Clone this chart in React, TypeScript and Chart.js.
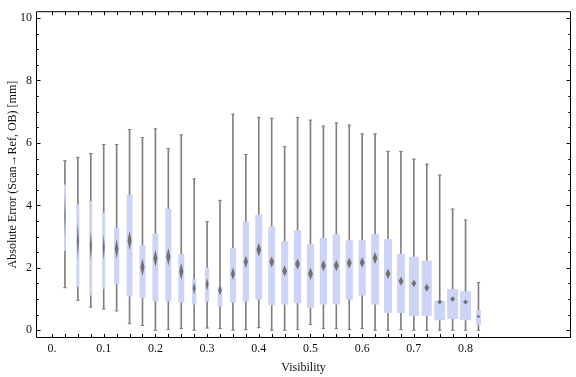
import React, { useEffect, useRef } from 'react';
import { Chart, registerables } from 'chart.js';

Chart.register(...registerables);

// ---- data ----
const positions = [
  0.025, 0.05, 0.075, 0.1, 0.125, 0.15, 0.175, 0.2, 0.225, 0.25, 0.275,
  0.3, 0.325, 0.35, 0.375, 0.4, 0.425, 0.45, 0.475, 0.5, 0.525, 0.55,
  0.575, 0.6, 0.625, 0.65, 0.675, 0.7, 0.725, 0.75, 0.775, 0.8, 0.825,
];
const whiskerHigh = [
  5.43, 5.54, 5.66, 5.95, 5.95, 6.43, 6.17, 6.45, 5.82, 6.26, 4.85,
  3.48, 4.16, 6.92, 5.63, 6.82, 6.79, 5.88, 6.82, 6.73, 6.54, 6.64,
  6.57, 6.29, 6.29, 5.73, 5.73, 5.48, 5.32, 4.97, 3.88, 3.53, 1.53,
];
const upperQuartile = [
  4.67, 4.03, 4.13, 3.76, 3.28, 4.33, 2.72, 3.1, 3.89, 2.45, 1.63,
  2.01, 1.38, 2.63, 3.48, 3.7, 3.32, 2.85, 3.2, 2.76, 2.95, 3.07,
  2.88, 2.88, 3.07, 2.92, 2.45, 2.35, 2.23, 0.94, 1.32, 1.25, 0.63,
];
const medians = [
  3.66, 2.87, 2.7, 2.66, 2.61, 2.87, 2.02, 2.3, 2.35, 1.88, 1.34,
  1.47, 1.28, 1.81, 2.19, 2.58, 2.19, 1.9, 2.12, 1.81, 2.07, 2.07,
  2.15, 2.17, 2.31, 1.81, 1.57, 1.5, 1.36, 0.9, 1.0, 0.9, 0.44,
];
const lowerQuartile = [
  2.54, 1.39, 1.11, 1.33, 1.48, 1.08, 1.04, 0.93, 0.93, 0.89, 0.82,
  0.92, 0.76, 0.89, 0.92, 0.98, 0.81, 0.82, 0.86, 0.71, 0.82, 0.82,
  0.98, 1.11, 0.82, 0.55, 0.55, 0.46, 0.46, 0.32, 0.36, 0.32, 0.17,
];
const whiskerLow = [
  1.36, 0.96, 0.74, 0.68, 0.62, 0.21, 0.15, 0.0, 0.02, 0.05, 0.0,
  0.07, 0.05, 0.0, 0.02, 0.08, 0.0, 0.0, 0.02, 0.18, 0.05, 0.05,
  0.02, 0.05, 0.0, 0.0, 0.02, 0.0, 0.0, 0.0, 0.0, 0.0, 0.0,
];
// half-height of the median notch diamond (mm)
const medianSpread = [
  0.65, 0.6, 0.5, 0.42, 0.32, 0.3, 0.28, 0.27, 0.28, 0.28, 0.2,
  0.2, 0.17, 0.2, 0.2, 0.22, 0.18, 0.18, 0.18, 0.2, 0.18, 0.18,
  0.17, 0.17, 0.19, 0.17, 0.15, 0.12, 0.13, 0.08, 0.09, 0.08, 0.06,
];
// relative box weight (share of the category spacing)
const boxWeight = [
  0.15, 0.23, 0.23, 0.23, 0.41, 0.46, 0.46, 0.46, 0.46, 0.46, 0.33,
  0.33, 0.38, 0.46, 0.48, 0.54, 0.54, 0.54, 0.56, 0.56, 0.56, 0.56,
  0.56, 0.56, 0.62, 0.62, 0.62, 0.77, 0.77, 0.85, 0.85, 0.85, 0.38,
];
const xTickLabels = [0, 0.1, 0.2, 0.3, 0.4, 0.5, 0.6, 0.7, 0.8];
const yTickLabels = [0, 2, 4, 6, 8, 10];
const yMinorStep = 0.5;
const xLabel = 'Visibility';
const yLabel = 'Absolute Error (Scan\u2192Ref, OB) [mm]';

const BOX_COLOR = '#cdd4f5';
const WHISKER_COLOR = '#808080';
const FONT = '"Liberation Serif", "Times New Roman", serif';

const near = (a: number, b: number) => Math.abs(a - b) < 1e-6;

const framePlugin = {
  id: 'mmaFrame',
  afterDatasetsDraw(chart: any) {
    const { ctx, chartArea: a } = chart;
    const x = chart.scales.x;
    const y = chart.scales.y;
    const spacing = x.getPixelForValue(positions[1]) - x.getPixelForValue(positions[0]);
    ctx.save();
    ctx.beginPath();
    ctx.rect(a.left, a.top, a.right - a.left, a.bottom - a.top);
    ctx.clip();
    ctx.filter = 'blur(0.5px)';
    ctx.fillStyle = '#707070';
    positions.forEach((p, i) => {
      const cx = x.getPixelForValue(p);
      const cy = y.getPixelForValue(medians[i]);
      const top = y.getPixelForValue(medians[i] + medianSpread[i]);
      const bot = y.getPixelForValue(medians[i] - medianSpread[i]);
      const hw = Math.min(spacing * boxWeight[i] * 0.34, 2.4);
      ctx.beginPath();
      ctx.moveTo(cx, top);
      ctx.lineTo(cx + hw, cy);
      ctx.lineTo(cx, bot);
      ctx.lineTo(cx - hw, cy);
      ctx.closePath();
      ctx.fill();
    });
    ctx.restore();
  },
  afterDraw(chart: any) {
    const { ctx, chartArea: a } = chart;
    const x = chart.scales.x;
    const y = chart.scales.y;
    ctx.save();
    ctx.strokeStyle = '#000';
    ctx.lineWidth = 1;
    ctx.beginPath();
    ctx.rect(a.left + 0.5, a.top + 0.5, a.right - a.left - 1, a.bottom - a.top - 1);
    ctx.stroke();
    ctx.beginPath();
    x.ticks.forEach((t: any) => {
      const px = Math.round(x.getPixelForValue(t.value)) + 0.5;
      ctx.moveTo(px, a.bottom);
      ctx.lineTo(px, a.bottom - 4);
      ctx.moveTo(px, a.top);
      ctx.lineTo(px, a.top + 4);
    });
    y.ticks.forEach((t: any) => {
      const py = Math.round(y.getPixelForValue(t.value)) + 0.5;
      const major = yTickLabels.some((v) => near(v, t.value));
      const len = major ? 4.5 : 2.7;
      ctx.moveTo(a.left, py);
      ctx.lineTo(a.left + len, py);
      ctx.moveTo(a.right, py);
      ctx.lineTo(a.right - len, py);
    });
    ctx.stroke();
    ctx.restore();
  },
};

export default function App() {
  const ref = useRef<HTMLCanvasElement>(null);

  useEffect(() => {
    if (!ref.current) return;
    const boxSets = positions.map((p, i) => ({
      type: 'bar' as const,
      data: [{ x: p, y: [lowerQuartile[i], upperQuartile[i]] }],
      backgroundColor: BOX_COLOR,
      borderWidth: 0,
      barPercentage: boxWeight[i],
      categoryPercentage: 1,
      grouped: false,
      order: 2,
    }));
    const whiskers = {
      type: 'bar' as const,
      data: positions.map((p, i) => ({ x: p, y: [whiskerLow[i], whiskerHigh[i]] })),
      backgroundColor: WHISKER_COLOR,
      borderWidth: 0,
      barThickness: 1,
      grouped: false,
      order: 3,
    };
    const caps = {
      type: 'scatter' as const,
      data: [
        ...positions.map((p, i) => ({ x: p, y: whiskerHigh[i] })),
        ...positions.map((p, i) => ({ x: p, y: whiskerLow[i] })),
      ],
      pointStyle: 'line',
      pointRadius: 1.8,
      borderWidth: 1,
      borderColor: WHISKER_COLOR,
      backgroundColor: WHISKER_COLOR,
      showLine: false,
      order: 1,
    };

    const xTicks = [0, ...positions];
    const yTicks: number[] = [];
    for (let v = 0; v <= 10 + 1e-9; v += yMinorStep) yTicks.push(Math.round(v * 10) / 10);

    const chart = new Chart(ref.current, {
      type: 'bar',
      data: { datasets: [whiskers, ...boxSets, caps] as any },
      options: {
        responsive: false,
        animation: false,
        events: [],
        layout: { padding: { left: 0, right: 3, top: 4, bottom: 0 } },
        plugins: { legend: { display: false }, tooltip: { enabled: false } },
        scales: {
          x: {
            type: 'linear',
            min: -0.031,
            max: 1.004,
            offset: false,
            grid: { display: false, drawTicks: false, tickLength: 0 },
            border: { display: false },
            afterBuildTicks: (s: any) => {
              s.ticks = xTicks.map((v) => ({ value: v }));
            },
            afterFit: (s: any) => {
              s.height = 39;
            },
            ticks: {
              autoSkip: false,
              maxRotation: 0,
              minRotation: 0,
              padding: 4,
              color: '#111',
              font: { family: FONT, size: 12 },
              callback: (v: any) => {
                const n = Number(v);
                if (!xTickLabels.some((t) => near(t, n))) return '';
                return near(n, 0) ? '0.' : n.toFixed(1);
              },
            },
            title: {
              display: true,
              text: xLabel,
              color: '#111',
              font: { family: FONT, size: 12 },
              padding: { top: 0, bottom: 2 },
            },
          },
          y: {
            type: 'linear',
            min: -0.25,
            max: 10.22,
            grid: { display: false, drawTicks: false, tickLength: 0 },
            border: { display: false },
            afterBuildTicks: (s: any) => {
              s.ticks = yTicks.map((v) => ({ value: v }));
            },
            afterFit: (s: any) => {
              s.width = 36;
            },
            ticks: {
              autoSkip: false,
              padding: 4,
              color: '#111',
              font: { family: FONT, size: 12 },
              callback: (v: any) => {
                const n = Number(v);
                return yTickLabels.some((t) => near(t, n)) ? String(Math.round(n)) : '';
              },
            },
            title: {
              display: true,
              text: yLabel,
              color: '#111',
              font: { family: FONT, size: 12 },
              padding: { top: 6, bottom: 0 },
            },
          },
        },
      } as any,
      plugins: [framePlugin],
    });
    return () => chart.destroy();
  }, []);

  return (
    <div style={{ position: 'fixed', left: 0, top: 0, width: 576, height: 377, background: '#fff' }}>
      <canvas ref={ref} width={576} height={377} style={{ display: 'block' }} />
    </div>
  );
}
